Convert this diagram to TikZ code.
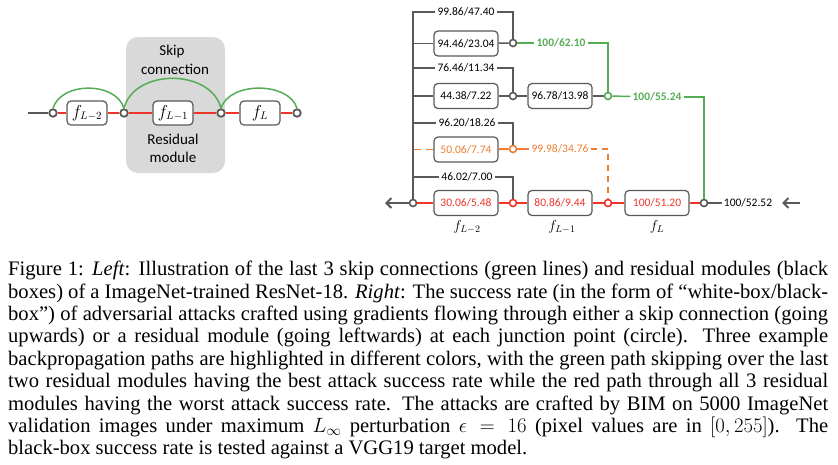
\documentclass[tikz,border=0pt]{standalone}
\usepackage{fontspec}
\setmainfont{Liberation Serif}
\newfontfamily\calfont{Carlito}
\usetikzlibrary{arrows.meta}
\definecolor{lgray}{RGB}{89,89,89}
\definecolor{gfill}{RGB}{217,217,217}
\definecolor{pgreen}{RGB}{84,172,84}
\definecolor{pred}{RGB}{240,52,40}
\definecolor{porange}{RGB}{237,125,49}
\begin{document}
\begin{tikzpicture}[x=1pt,y=-1pt,
  jn/.style={circle, draw=lgray, fill=white, line width=1.6pt, minimum size=7pt, inner sep=0pt},
  bigjn/.style={jn, line width=1.8pt, minimum size=7.5pt},
  rbox/.style={draw=lgray, rounded corners=4pt, line width=1.2pt, fill=white, minimum width=64pt, minimum height=25pt, inner sep=0pt, font=\calfont\fontsize{11.5}{13}\selectfont},
  fbox/.style={draw=lgray, rounded corners=4pt, line width=1.2pt, fill=white, minimum width=40pt, minimum height=24pt, inner sep=0pt, font=\fontsize{16}{18}\selectfont},
  lbl/.style={inner sep=2pt, font=\calfont\fontsize{11.5}{13}\selectfont},
  glbl/.style={lbl, text=pgreen, font=\calfont\bfseries\fontsize{11.5}{13}\selectfont},
  lefttxt/.style={font=\calfont\fontsize{15}{17}\selectfont},
  flab/.style={font=\fontsize{14}{16}\selectfont},
  conn/.style={lgray, line width=1.5pt},
  redl/.style={pred, line width=2.2pt},
  grnl/.style={pgreen, line width=1.5pt},
  orgl/.style={draw=porange, line width=1.8pt},
  arr/.style={lgray, line width=2pt, -{Straight Barb[length=5pt,width=10pt]}}
]
\useasboundingbox (0,0) rectangle (838,464);

% ---------- left diagram ----------
\node[fill=gfill, rounded corners=12pt, minimum width=99pt, minimum height=136pt, inner sep=0pt] (bg) at (175.5,105) {};
\node[lefttxt] (tskip) at (172,51) {Skip};
\node[lefttxt] (tconn) at (175,69) {connection};
\node[lefttxt] (tres) at (173,139) {Residual};
\node[lefttxt] (tmod) at (173,157) {module};

\coordinate (l0) at (28,113);
\node[bigjn] (c1) at (53,113) {};
\node[bigjn] (c2) at (124,113) {};
\node[bigjn] (c3) at (221,113) {};
\node[bigjn] (c4) at (297,113) {};
\node[fbox] (b1) at (87,113) {$f_{L-2}$};
\node[fbox] (b2) at (173,113) {$f_{L-1}$};
\node[fbox] (b3) at (260,113) {$f_{L}$};
\draw[lgray, line width=2pt] (l0) -- (c1);
\draw[redl, line width=2.5pt] (c1) -- (b1);
\draw[redl, line width=2.5pt] (b1) -- (c2);
\draw[redl, line width=2.5pt] (c2) -- (b2);
\draw[redl, line width=2.5pt] (b2) -- (c3);
\draw[redl, line width=2.5pt] (c3) -- (b3);
\draw[redl, line width=2.5pt] (b3) -- (c4);
\draw[grnl] (c1.north) .. controls +(8,-27) and +(-8,-27) .. (c2.north);
\draw[grnl] (c2.north) .. controls +(10,-40) and +(-10,-40) .. (c3.north);
\draw[grnl] (c3.north) .. controls +(8,-27) and +(-8,-27) .. (c4.north);

% ---------- right diagram ----------
\coordinate (v0) at (413,12);
\node[jn] (j0) at (413,203) {};
\node[jn] (j1) at (513,43) {};
\node[jn, draw=pgreen] (j2) at (608,96) {};
\node[jn] (j3) at (513,96) {};
\node[jn, draw=porange] (j4) at (513,149) {};
\node[jn, draw=pred] (j5) at (608,203) {};
\node[jn, draw=pred] (j6) at (513,203) {};
\node[jn] (j9) at (704,203) {};

\node[lbl] (t1) at (466,12) {99.86/47.40};
\node[lbl] (t2) at (466,68) {76.46/11.34};
\node[lbl] (t3) at (467,123) {96.20/18.26};
\node[lbl] (t4) at (467,177) {46.02/7.00};
\node[glbl] (g1) at (561,43) {100/62.10};
\node[glbl] (g2) at (657,97) {100/55.24};
\node[lbl, text=porange] (o1) at (560,149) {99.98/34.76};
\node[lbl] (t5) at (748,203) {100/52.52};

\node[rbox] (B1) at (466,43.5) {94.46/23.04};
\node[rbox] (B2) at (466,96) {44.38/7.22};
\node[rbox] (B3) at (560,96) {96.78/13.98};
\node[rbox, text=porange] (B4) at (466,149.5) {50.06/7.74};
\node[rbox, text=pred] (B5) at (466,203) {30.06/5.48};
\node[rbox, text=pred] (B6) at (560,203) {80.86/9.44};
\node[rbox, text=pred] (B7) at (657,203) {100/51.20};

\node[flab] (fl2) at (467,227) {$f_{L-2}$};
\node[flab] (fl1) at (562,227) {$f_{L-1}$};
\node[flab] (fl0) at (657,227) {$f_{L}$};

% gray connectors
\draw[conn] (j0.north) -- (v0) -- (t1.west);
\draw[conn] (t1.east) -| (j1.north);
\draw[conn] (B1.west -| v0) -- (B1.west);
\draw[conn] (B1) -- (j1);
\draw[conn] (t2.west -| v0) -- (t2.west);
\draw[conn] (t2.east) -| (j3.north);
\draw[conn] (B2.west -| v0) -- (B2.west);
\draw[conn] (B2) -- (j3);
\draw[conn] (j3) -- (B3);
\draw[conn] (B3) -- (j2);
\draw[conn] (t3.west -| v0) -- (t3.west);
\draw[conn] (t3.east) -| (j4.north);
\draw[conn] (t4.west -| v0) -- (t4.west);
\draw[conn] (t4.east) -| (j6.north);
\draw[conn] (j9) -- (t5);
% green path
\draw[grnl] (j1) -- (g1);
\draw[grnl] (g1.east) -| (j2.north);
\draw[grnl] (j2) -- (g2);
\draw[grnl] (g2.east) -| (j9.north);
% orange path
\coordinate (od) at ([xshift=1pt]B4.west -| v0);
\draw[orgl, dash pattern=on 7pt off 5pt] (B4.west) -- (od);
\draw[orgl, line width=2pt] (B4) -- (j4);
\draw[orgl, line width=2pt] (j4) -- (o1);
\draw[orgl, dash pattern=on 6pt off 5pt] (o1.east) -| (j5.north);
% red path
\draw[redl] (j0) -- (B5);
\draw[redl] (B5) -- (j6);
\draw[redl] (j6) -- (B6);
\draw[redl] (B6) -- (j5);
\draw[redl] (j5) -- (B7);
\draw[redl] (B7) -- (j9);
% arrows
\coordinate (aL) at (385,203);
\coordinate (aR1) at (800,203);
\coordinate (aR2) at (782,203);
\draw[arr] (j0) -- (aL);
\draw[arr] (aR1) -- (aR2);

% ---------- caption ----------
\node[anchor=north west, inner sep=0pt, text width=820pt, align=justify,
      font=\fontsize{20.6}{22.4}\selectfont] (cap) at (8,261) {%
Figure 1: \textit{Left}: Illustration of the last 3 skip connections (green lines) and residual modules (black\linebreak
boxes) of a ImageNet-trained ResNet-18. \textit{Right}: The success rate (in the form of ``white-box/black-\linebreak
box'') of adversarial attacks crafted using gradients flowing through either a skip connection (going\linebreak
upwards) or a residual module (going leftwards) at each junction point (circle). Three example\linebreak
backpropagation paths are highlighted in different colors, with the green path skipping over the last\linebreak
two residual modules having the best attack success rate while the red path through all 3 residual\linebreak
modules having the worst attack success rate. The attacks are crafted by BIM on 5000 ImageNet\linebreak
validation images under maximum $L_\infty$ perturbation $\epsilon = 16$ (pixel values are in $[0,255]$). The\linebreak
black-box success rate is tested against a VGG19 target model.};
\end{tikzpicture}
\end{document}
